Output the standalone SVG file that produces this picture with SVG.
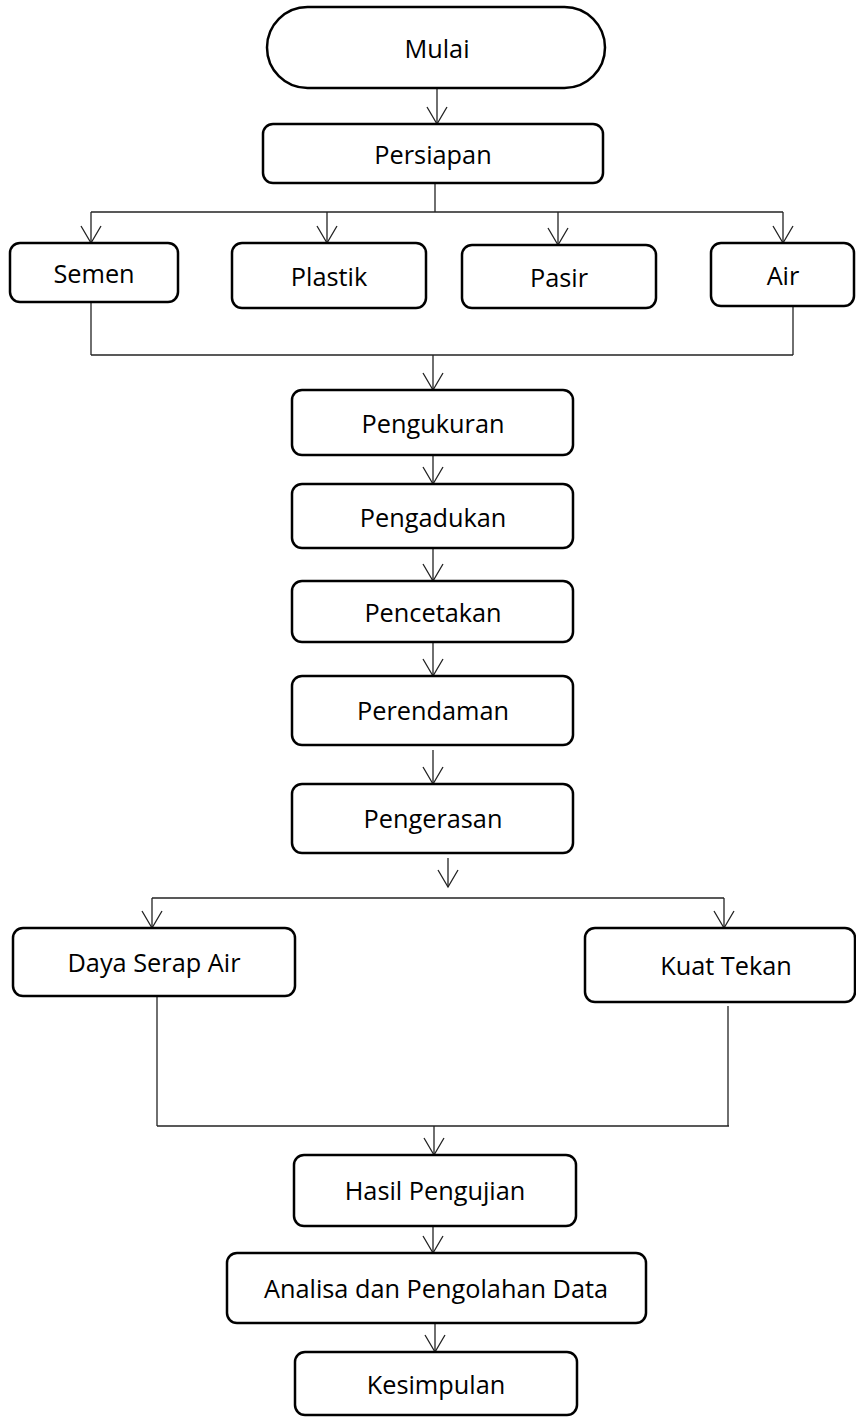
<svg xmlns="http://www.w3.org/2000/svg" width="856" height="1418" viewBox="0 0 856 1418">
<style>
.box{fill:#fff;stroke:#000;stroke-width:2.5}
.lbl{font-family:"Open Sans","Liberation Sans",sans-serif;font-size:25.3px;fill:#000;text-anchor:middle}
.c{fill:none;stroke:#222;stroke-width:1.3}
.a{fill:none;stroke:#222;stroke-width:1.3;marker-end:url(#v)}
</style>
<defs>
<marker id="v" markerUnits="userSpaceOnUse" markerWidth="40" markerHeight="40" refX="0" refY="0" orient="auto" overflow="visible">
<path d="M-17,-10 L0,0 L-17,10" fill="none" stroke="#222" stroke-width="1.3"/>
</marker>
</defs>
<g id="connectors">
<line class="a" x1="437" y1="88" x2="437" y2="124"/>
<line class="c" x1="435" y1="183" x2="435" y2="212"/>
<line class="c" x1="91" y1="212" x2="783" y2="212"/>
<line class="a" x1="91" y1="212" x2="91" y2="243"/>
<line class="a" x1="327" y1="212" x2="327" y2="243"/>
<line class="a" x1="558" y1="212" x2="558" y2="245"/>
<line class="a" x1="783" y1="212" x2="783" y2="243"/>
<line class="c" x1="91" y1="302" x2="91" y2="355"/>
<line class="c" x1="793" y1="306" x2="793" y2="355"/>
<line class="c" x1="91" y1="355" x2="793" y2="355"/>
<line class="a" x1="433" y1="355" x2="433" y2="390"/>
<line class="a" x1="433" y1="455" x2="433" y2="484"/>
<line class="a" x1="433" y1="548" x2="433" y2="581"/>
<line class="a" x1="433" y1="642" x2="433" y2="676"/>
<line class="a" x1="433" y1="750" x2="433" y2="784"/>
<line class="a" x1="448" y1="858" x2="448" y2="887"/>
<line class="c" x1="152" y1="898" x2="724" y2="898"/>
<line class="a" x1="152" y1="898" x2="152" y2="928"/>
<line class="a" x1="724" y1="898" x2="724" y2="928"/>
<line class="c" x1="157" y1="996" x2="157" y2="1126"/>
<line class="c" x1="728" y1="1006" x2="728" y2="1126"/>
<line class="c" x1="157" y1="1126" x2="729" y2="1126"/>
<line class="a" x1="434" y1="1126" x2="434" y2="1155"/>
<line class="a" x1="433" y1="1226" x2="433" y2="1253"/>
<line class="a" x1="435" y1="1323" x2="435" y2="1352"/>
</g>
<g id="mulai"><rect class="box" x="267" y="7" width="338" height="81" rx="40.5"/><text class="lbl" x="437" y="58">Mulai</text></g>
<g id="persiapan"><rect class="box" x="263" y="124" width="340" height="59" rx="10"/><text class="lbl" x="433" y="164">Persiapan</text></g>
<g id="semen"><rect class="box" x="10" y="243" width="168" height="59" rx="10"/><text class="lbl" x="94" y="283">Semen</text></g>
<g id="plastik"><rect class="box" x="232" y="243" width="194" height="65" rx="10"/><text class="lbl" x="329" y="286">Plastik</text></g>
<g id="pasir"><rect class="box" x="462" y="245" width="194" height="63" rx="10"/><text class="lbl" x="559" y="287">Pasir</text></g>
<g id="air"><rect class="box" x="711" y="243" width="143" height="63" rx="10"/><text class="lbl" x="783" y="285">Air</text></g>
<g id="pengukuran"><rect class="box" x="292" y="390" width="281" height="65" rx="10"/><text class="lbl" x="433" y="433">Pengukuran</text></g>
<g id="pengadukan"><rect class="box" x="292" y="484" width="281" height="64" rx="10"/><text class="lbl" x="433" y="527">Pengadukan</text></g>
<g id="pencetakan"><rect class="box" x="292" y="581" width="281" height="61" rx="10"/><text class="lbl" x="433" y="622">Pencetakan</text></g>
<g id="perendaman"><rect class="box" x="292" y="676" width="281" height="69" rx="10"/><text class="lbl" x="433" y="720">Perendaman</text></g>
<g id="pengerasan"><rect class="box" x="292" y="784" width="281" height="69" rx="10"/><text class="lbl" x="433" y="828">Pengerasan</text></g>
<g id="daya-serap-air"><rect class="box" x="13" y="928" width="282" height="68" rx="10"/><text class="lbl" x="154" y="972">Daya Serap Air</text></g>
<g id="kuat-tekan"><rect class="box" x="585" y="928" width="270" height="74" rx="10"/><text class="lbl" x="726" y="975">Kuat Tekan</text></g>
<g id="hasil-pengujian"><rect class="box" x="294" y="1155" width="282" height="71" rx="10"/><text class="lbl" x="435" y="1200">Hasil Pengujian</text></g>
<g id="analisa"><rect class="box" x="227" y="1253" width="419" height="70" rx="10"/><text class="lbl" x="436" y="1298">Analisa dan Pengolahan Data</text></g>
<g id="kesimpulan"><rect class="box" x="295" y="1352" width="282" height="63" rx="10"/><text class="lbl" x="436" y="1394">Kesimpulan</text></g>
</svg>
